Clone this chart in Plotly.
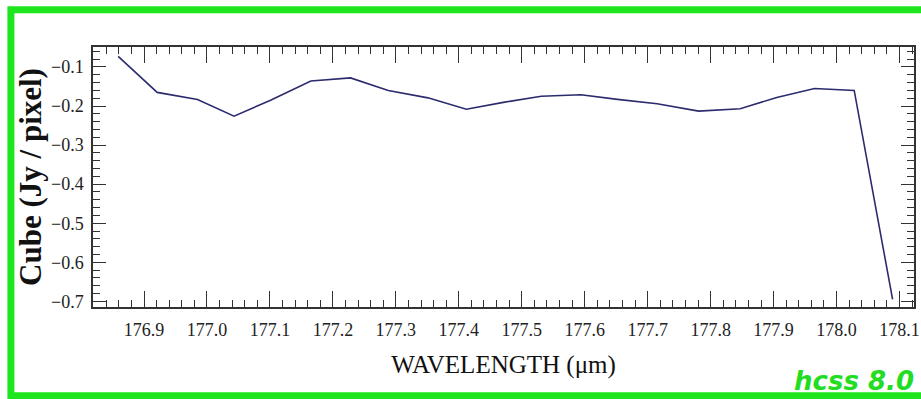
import plotly.graph_objects as go

wavelength = [176.859, 176.921, 176.985, 177.043, 177.101, 177.165, 177.228,
              177.288, 177.351, 177.412, 177.473, 177.531, 177.594, 177.652,
              177.715, 177.781, 177.847, 177.905, 177.965, 178.028, 178.089]
flux = [-0.073, -0.165, -0.183, -0.226, -0.185, -0.136, -0.128,
        -0.160, -0.179, -0.208, -0.190, -0.175, -0.171, -0.183,
        -0.194, -0.213, -0.207, -0.178, -0.155, -0.160, -0.695]

x_title = "WAVELENGTH (μm)"
y_title = "Cube (Jy / pixel)"
badge = "hcss 8.0"

SERIF = "Liberation Serif"

fig = go.Figure()
fig.add_trace(go.Scatter(x=wavelength, y=flux, mode="lines",
                         line=dict(color="#2b2b6e", width=1.6),
                         showlegend=False))

tick_font = dict(family=SERIF, size=18, color="#222222")

fig.update_xaxes(showgrid=False, zeroline=False, showline=True,
                 linecolor="#333333", linewidth=1.5, mirror="allticks",
                 ticks="inside", tickcolor="#333333", tickwidth=1.2,
                 tickformat=".1f", tickfont=tick_font,
                 ticklabeloverflow="allow", automargin=False,
                 range=[176.819, 178.123], dtick=0.1, tick0=0,
                 ticklen=16, ticklabelstandoff=6,
                 minor=dict(dtick=0.02, ticklen=7, ticks="inside",
                            tickcolor="#333333", tickwidth=1, showgrid=False),
                 title=dict(text=x_title, standoff=16,
                            font=dict(family=SERIF, size=25, color="#111111")))
fig.update_yaxes(showgrid=False, zeroline=False, showline=True,
                 linecolor="#333333", linewidth=1.5, mirror="allticks",
                 ticks="inside", tickcolor="#333333", tickwidth=1.2,
                 tickformat=".1f", tickfont=tick_font,
                 ticklabeloverflow="allow", automargin=False,
                 range=[-0.7146, -0.0488], dtick=0.1, tick0=0,
                 ticklen=13, ticklabelstandoff=4,
                 minor=dict(dtick=0.02, ticklen=7, ticks="inside",
                            tickcolor="#333333", tickwidth=1, showgrid=False),
                 title=dict(text=y_title, standoff=0,
                            font=dict(family=SERIF, size=31, color="#111111",
                                      weight="bold")))

# green frame
fig.add_shape(type="rect", xref="paper", yref="paper",
              x0=-0.1, x1=1.03, y0=-0.3415, y1=1.143,
              line=dict(color="#1ee61e", width=7), fillcolor="rgba(0,0,0,0)",
              layer="above")

fig.add_annotation(text=badge, xref="paper", yref="paper", x=1.003, y=-0.286,
                   xanchor="right", yanchor="middle", showarrow=False,
                   font=dict(family="DejaVu Sans", size=26, color="#22dd22",
                             weight="bold", style="italic"))

fig.update_layout(width=921, height=399, margin=dict(l=93, r=7, t=47, b=92),
                  font=dict(family=SERIF, size=18, color="#222222"),
                  plot_bgcolor="white", paper_bgcolor="white")

fig.write_html("out.html")
